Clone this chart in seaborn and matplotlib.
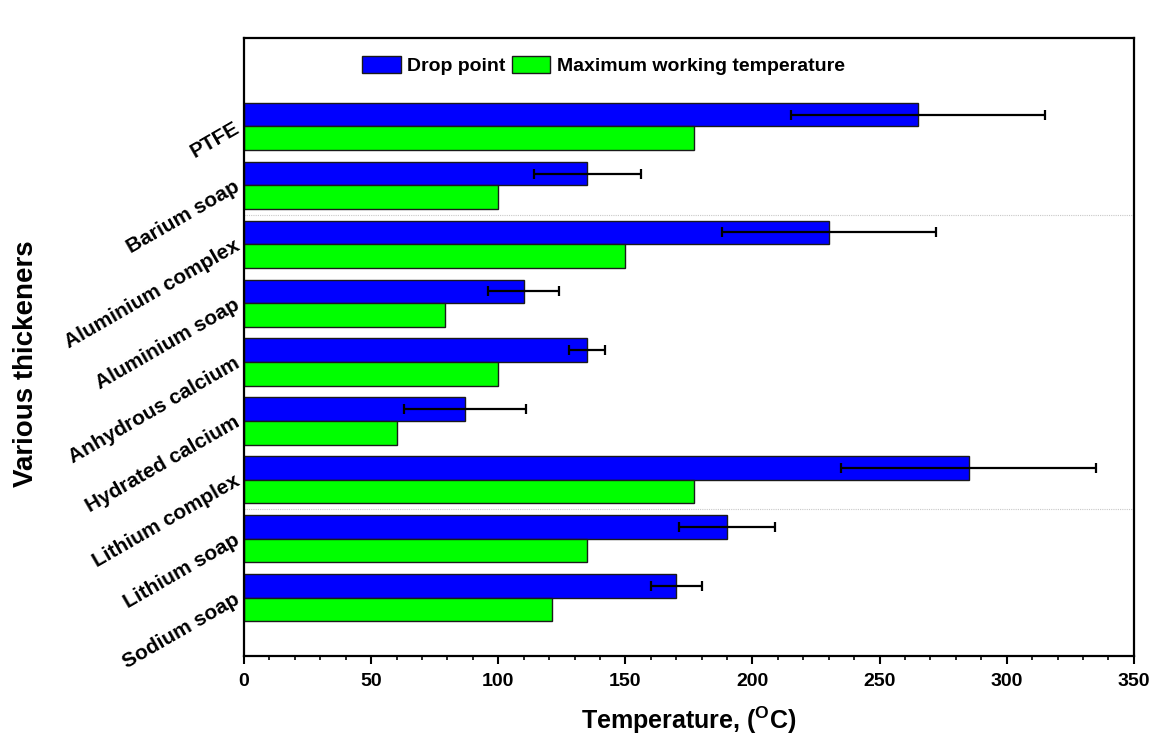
import matplotlib
matplotlib.use("Agg")
import matplotlib.pyplot as plt
import seaborn as sns
import pandas as pd
from matplotlib.ticker import MultipleLocator

# ---- data ----
thickeners = ["PTFE", "Barium soap", "Aluminium complex", "Aluminium soap",
              "Anhydrous calcium", "Hydrated calcium", "Lithium complex",
              "Lithium soap", "Sodium soap"]
drop_point = [265, 135, 230, 110, 135, 87, 285, 190, 170]
drop_err = [50, 21, 42, 14, 7, 24, 50, 19, 10]
max_working = [177, 100, 150, 79, 100, 60, 177, 135, 121]
series_names = ["Drop point", "Maximum working temperature"]
x_ticks = [0, 50, 100, 150, 200, 250, 300, 350]

df = pd.DataFrame({
    "Thickener": thickeners * 2,
    "Temperature": drop_point + max_working,
    "Series": [series_names[0]] * len(thickeners) + [series_names[1]] * len(thickeners),
})

sns.set_style("ticks")
plt.rcParams["font.family"] = ["Liberation Sans", "DejaVu Sans"]
plt.rcParams["font.weight"] = "bold"
plt.rcParams["mathtext.fontset"] = "custom"
plt.rcParams["mathtext.rm"] = "Liberation Sans:bold"
plt.rcParams["mathtext.bf"] = "Liberation Sans:bold"
for key in ("text.color", "axes.labelcolor", "xtick.color", "ytick.color",
            "axes.edgecolor"):
    plt.rcParams[key] = "black"

fig = plt.figure(figsize=(11.6, 7.53), dpi=100)
ax = fig.add_axes([0.2103, 0.1288, 0.7672, 0.8207])

sns.barplot(data=df, y="Thickener", x="Temperature", hue="Series", orient="h",
            order=thickeners, hue_order=series_names,
            palette=["#0000FF", "#00FF00"], saturation=1,
            edgecolor="#1a1a1a", linewidth=1.0,
            errorbar=None, width=0.8, ax=ax)

# error bars on drop point bars
bars = ax.containers[0]
ys = [b.get_y() + b.get_height() / 2 for b in bars]
xs = [b.get_width() for b in bars]
ax.errorbar(xs, ys, xerr=drop_err, fmt="none", ecolor="black",
            elinewidth=1.6, capsize=3.5, capthick=1.6, zorder=5)

# faint dotted separators seen in the original
for pos in (1.5, 6.5):
    ax.axhline(pos, color="#c8c8c8", lw=0.8, ls=(0, (1, 1)), zorder=0)

ax.set_xlim(0, 350)
ax.set_ylim(len(thickeners) - 1 + 0.99, -1.5)
ax.set_xticks(x_ticks)
ax.xaxis.set_minor_locator(MultipleLocator(10))
ax.tick_params(axis="x", which="major", direction="out", length=6, width=1.5,
               labelsize=14, pad=6, colors="black")
ax.tick_params(axis="x", which="minor", direction="out", length=3, width=1.2,
               colors="black")
ax.tick_params(axis="y", which="both", length=0, labelsize=15, pad=4,
               colors="black")
for lab in ax.get_xticklabels():
    lab.set_fontweight("bold")
for lab in ax.get_yticklabels():
    lab.set_rotation(30)
    lab.set_ha("right")
    lab.set_va("center")
    lab.set_rotation_mode("anchor")
    lab.set_fontweight("bold")

for sp in ax.spines.values():
    sp.set_visible(True)
    sp.set_linewidth(1.6)
    sp.set_color("black")

ax.set_xlabel(r"Temperature, ($^{\mathbf{O}}$C)", fontsize=18, fontweight="bold")
ax.set_ylabel("Various thickeners", fontsize=20, fontweight="bold")
ax.xaxis.set_label_coords(0.5, -0.079)
ax.yaxis.set_label_coords(-0.23, 0.4725)

leg = ax.legend(ncol=2, frameon=False, loc="center", bbox_to_anchor=(0.404, 0.956),
                handlelength=2.0, handleheight=1.0, handletextpad=0.35,
                columnspacing=0.3, prop={"weight": "bold", "size": 14})
for t in leg.get_texts():
    t.set_color("black")

fig.savefig("out.png", dpi=100)
